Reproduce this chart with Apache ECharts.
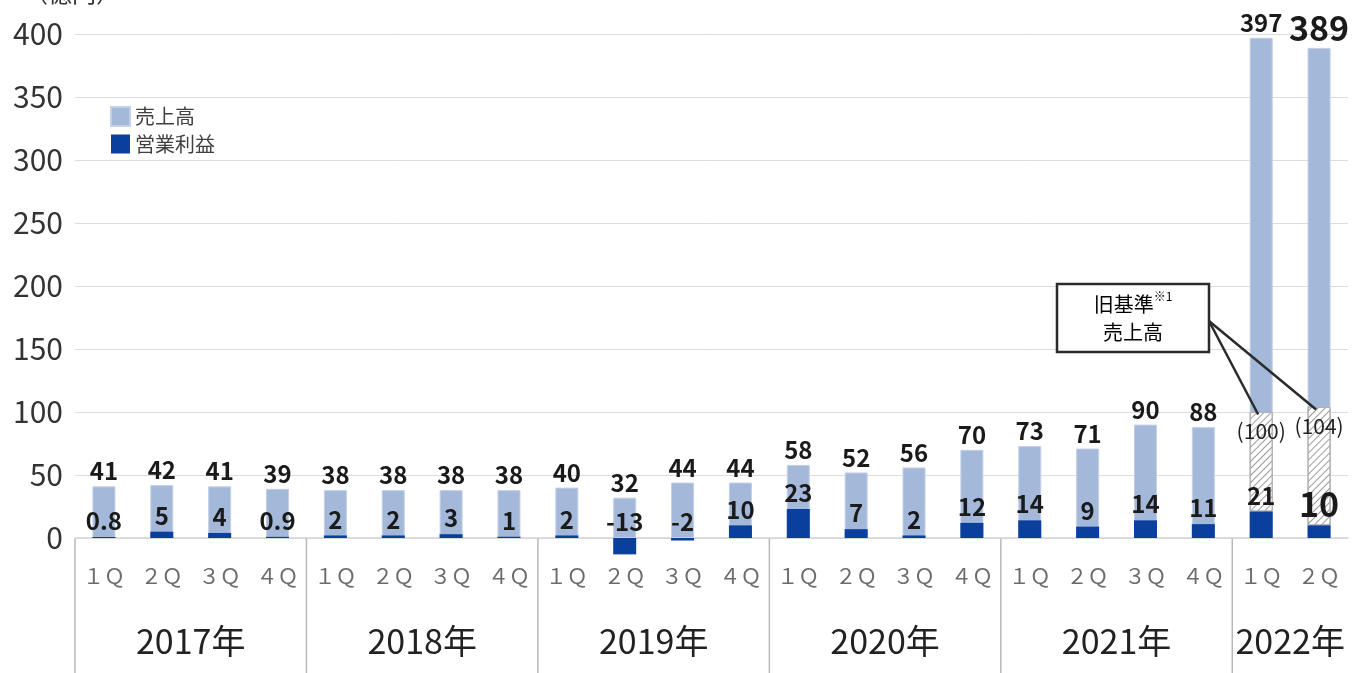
<!DOCTYPE html>
<html>
<head>
<meta charset="utf-8">
<script src="https://cdn.jsdelivr.net/npm/echarts@6/dist/echarts.min.js"></script>
<style>
html, body { margin: 0; padding: 0; background: #fff; }
#chart { width: 1359px; height: 673px; }
</style>
</head>
<body>
<div id="chart"></div>
<script>
// data
const quarters = ['１Ｑ', '２Ｑ', '３Ｑ', '４Ｑ', '１Ｑ', '２Ｑ', '３Ｑ', '４Ｑ', '１Ｑ', '２Ｑ', '３Ｑ', '４Ｑ',
  '１Ｑ', '２Ｑ', '３Ｑ', '４Ｑ', '１Ｑ', '２Ｑ', '３Ｑ', '４Ｑ', '１Ｑ', '２Ｑ'];
const years = ['2017年', '2018年', '2019年', '2020年', '2021年', '2022年'];
const quartersPerYear = [4, 4, 4, 4, 4, 2];
const sales = [41, 42, 41, 39, 38, 38, 38, 38, 40, 32, 44, 44, 58, 52, 56, 70, 73, 71, 90, 88, 397, 389];
const opProfit = [0.8, 5, 4, 0.9, 2, 2, 3, 1, 2, -13, -2, 10, 23, 7, 2, 12, 14, 9, 14, 11, 21, 10];
const oldSales = [null, null, null, null, null, null, null, null, null, null, null, null,
  null, null, null, null, null, null, null, null, 100, 104];
const yMin = 0, yMax = 400, yStep = 50;

const FONT = '"Noto Sans CJK JP", "Noto Sans", sans-serif';
const SALES_COLOR = '#a4b9da';
const OP_COLOR = '#0a3f9e';
const bigIdx = 21; // 2022 2Q labels are drawn larger

const chart = echarts.init(document.getElementById('chart'));

const valueLabel = {
  show: true,
  position: 'top',
  distance: 3,
  fontFamily: FONT,
  fontSize: 24,
  fontWeight: 'bold',
  color: '#1a1a1a'
};

const option = {
  animation: false,
  textStyle: { fontFamily: FONT },
  grid: { left: 75, right: 11, top: 34, bottom: 135, containLabel: false },
  legend: {
    data: ['売上高', '営業利益'],
    orient: 'vertical',
    left: 105,
    top: 101,
    itemWidth: 19,
    itemHeight: 19,
    itemGap: 7,
    icon: 'rect',
    textStyle: { fontFamily: FONT, fontSize: 20, color: '#404040' }
  },
  xAxis: {
    type: 'category',
    data: quarters,
    axisLine: { lineStyle: { color: '#d4d4d4', width: 1.5 } },
    axisTick: { show: false },
    axisLabel: { interval: 0, margin: 28, fontSize: 21, color: '#6b6b6b', fontFamily: FONT }
  },
  yAxis: {
    type: 'value',
    min: yMin,
    max: yMax,
    interval: yStep,
    axisLine: { show: false },
    axisTick: { show: false },
    splitLine: { lineStyle: { color: '#dcdcdc', width: 1 } },
    axisLabel: { fontSize: 30, color: '#333', margin: 12, fontFamily: FONT }
  },
  series: [
    {
      name: '売上高',
      type: 'bar',
      barWidth: 23,
      barGap: '-100%',
      clip: false,
      itemStyle: { color: SALES_COLOR, borderColor: '#c3d0e7', borderWidth: 1 },
      label: valueLabel,
      data: sales.map((v, i) => i === bigIdx ? { value: v, label: { fontSize: 34 } } : v),
      z: 2
    },
    {
      name: 'oldBase',
      type: 'bar',
      stack: 'old',
      barWidth: 23,
      barGap: '-100%',
      itemStyle: { color: 'rgba(0,0,0,0)' },
      data: oldSales.map((v, i) => v == null ? '-' : opProfit[i]),
      z: 3
    },
    {
      name: '旧基準売上高',
      type: 'bar',
      stack: 'old',
      barWidth: 23,
      barGap: '-100%',
      itemStyle: {
        color: '#ffffff',
        borderColor: '#b0b0b0',
        borderWidth: 1,
        decal: {
          symbol: 'rect',
          symbolSize: 1,
          color: '#9a9a9a',
          dashArrayX: [1, 0],
          dashArrayY: [1, 4],
          rotation: -Math.PI / 4
        }
      },
      label: {
        show: true,
        position: 'insideTop',
        distance: 9,
        fontFamily: FONT,
        fontSize: 21,
        color: '#222',
        formatter: p => '(' + oldSales[p.dataIndex] + ')'
      },
      data: oldSales.map((v, i) => v == null ? '-' : v - opProfit[i]),
      z: 3
    },
    {
      name: '営業利益',
      type: 'bar',
      barWidth: 23,
      barGap: '-100%',
      clip: false,
      itemStyle: { color: OP_COLOR },
      label: Object.assign({}, valueLabel, { distance: 4 }),
      data: opProfit.map((v, i) => i === bigIdx ? { value: v, label: { fontSize: 34 } } : v),
      z: 4
    }
  ]
};

chart.setOption(option);

// year row, separators and callout placed from the axis scales
const px = i => chart.convertToPixel({ xAxisIndex: 0 }, i);
const py = v => chart.convertToPixel({ yAxisIndex: 0 }, v);
const band = px(1) - px(0);
const y0 = py(0);
const graphics = [];
let start = 0;
years.forEach((yr, k) => {
  const n = quartersPerYear[k];
  const xl = px(start) - band / 2;
  graphics.push({
    type: 'line', silent: true,
    shape: { x1: xl, y1: y0, x2: xl, y2: 673 },
    style: { stroke: '#b8b8b8', lineWidth: 1.5 }
  });
  graphics.push({
    type: 'text', silent: true,
    x: xl + band * n / 2, y: 641,
    style: { text: yr, font: '34px ' + FONT, fill: '#222', textAlign: 'center', textVerticalAlign: 'middle' }
  });
  start += n;
});

// unit, mostly above the top edge
graphics.push({
  type: 'text', silent: true, x: 24, y: -19,
  style: { text: '（億円）', font: '24px ' + FONT, fill: '#333' }
});

// callout box
const bx = 1057, by = 284, bw = 152, bh = 68;
const anchor = [bx + bw, 321];
oldSales.forEach((v, i) => {
  if (v == null) return;
  graphics.push({
    type: 'line', silent: true, z: 20,
    shape: { x1: anchor[0], y1: anchor[1], x2: px(i) - 3, y2: py(v - 2) },
    style: { stroke: '#2b2b2b', lineWidth: 2.5 }
  });
});
graphics.push({
  type: 'rect', silent: true, z: 21,
  shape: { x: bx, y: by, width: bw, height: bh },
  style: { fill: '#fff', stroke: '#2b2b2b', lineWidth: 2.5 }
});
graphics.push({
  type: 'text', silent: true, z: 22,
  x: bx + bw / 2, y: by + bh / 2,
  style: {
    text: '{m|旧基準}{s|※1}\n{m|売上高}',
    textAlign: 'center', textVerticalAlign: 'middle',
    rich: {
      m: { fontFamily: FONT, fontSize: 20, color: '#444', lineHeight: 28 },
      s: { fontFamily: FONT, fontSize: 12, color: '#444', lineHeight: 28, verticalAlign: 'top', padding: [0, 0, 10, 0] }
    }
  }
});

chart.setOption({ graphic: graphics });
</script>
</body>
</html>
